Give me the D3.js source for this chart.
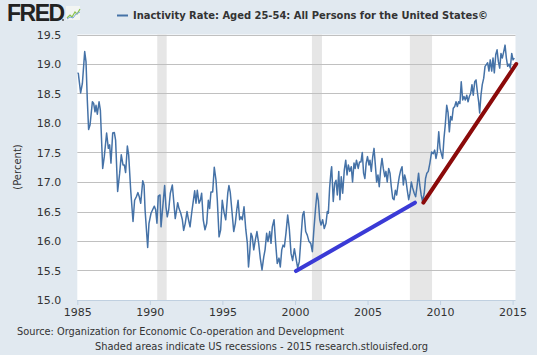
<!DOCTYPE html>
<html><head><meta charset="utf-8">
<script src="https://cdn.jsdelivr.net/npm/d3@7"></script>
<style>html,body{margin:0;padding:0;background:#e1e9f0;}svg{display:block;}</style>
</head><body>
<svg id="c" width="537" height="355"></svg>
<script>
const title = "Inactivity Rate: Aged 25-54: All Persons for the United States©";
const yTicks = [15.0, 15.5, 16.0, 16.5, 17.0, 17.5, 18.0, 18.5, 19.0, 19.5];
const xTicks = [1985, 1990, 1995, 2000, 2005, 2010, 2015];
const recessionStart = [1990.51, 2001.17, 2007.92];
const recessionEnd = [1991.16, 2001.86, 2009.45];
const trendBlue = [[2000.07, 15.49], [2008.27, 16.65]];
const trendRed = [[2008.85, 16.65], [2015.25, 19.0]];
const years = [1985.0,1985.07,1985.23,1985.35,1985.51,1985.60,1985.69,1985.78,1985.88,1986.04,1986.13,1986.22,1986.29,1986.38,1986.50,1986.59,1986.75,1986.86,1987.02,1987.14,1987.23,1987.32,1987.44,1987.55,1987.64,1987.78,1987.92,1988.03,1988.15,1988.24,1988.33,1988.45,1988.54,1988.68,1988.84,1988.95,1989.07,1989.18,1989.27,1989.37,1989.51,1989.60,1989.67,1989.85,1989.94,1990.08,1990.19,1990.31,1990.40,1990.49,1990.58,1990.70,1990.77,1990.93,1991.02,1991.11,1991.20,1991.30,1991.41,1991.55,1991.64,1991.75,1991.85,1991.92,1992.01,1992.13,1992.24,1992.33,1992.44,1992.56,1992.65,1992.77,1992.88,1993.00,1993.09,1993.18,1993.27,1993.39,1993.48,1993.57,1993.68,1993.80,1993.92,1994.03,1994.12,1994.21,1994.33,1994.44,1994.56,1994.65,1994.77,1994.88,1994.99,1995.11,1995.23,1995.37,1995.45,1995.54,1995.66,1995.78,1995.89,1995.99,1996.08,1996.19,1996.28,1996.37,1996.49,1996.61,1996.72,1996.80,1996.88,1996.97,1997.06,1997.16,1997.27,1997.38,1997.50,1997.61,1997.73,1997.85,1997.94,1998.05,1998.14,1998.26,1998.35,1998.44,1998.56,1998.67,1998.78,1998.90,1998.99,1999.09,1999.18,1999.27,1999.38,1999.50,1999.61,1999.73,1999.84,1999.96,2000.07,2000.19,2000.30,2000.42,2000.53,2000.62,2000.74,2000.85,2000.97,2001.09,2001.20,2001.31,2001.43,2001.52,2001.61,2001.71,2001.80,2001.91,2002.02,2002.14,2002.23,2002.30,2002.39,2002.48,2002.53,2002.64,2002.74,2002.83,2002.92,2003.02,2003.10,2003.19,2003.29,2003.40,2003.50,2003.59,2003.68,2003.78,2003.88,2003.97,2004.07,2004.15,2004.24,2004.36,2004.45,2004.55,2004.64,2004.73,2004.82,2004.91,2005.00,2005.10,2005.17,2005.26,2005.36,2005.45,2005.54,2005.63,2005.72,2005.81,2005.91,2006.00,2006.09,2006.19,2006.27,2006.36,2006.46,2006.55,2006.64,2006.74,2006.83,2006.92,2007.01,2007.10,2007.19,2007.29,2007.38,2007.47,2007.56,2007.65,2007.74,2007.84,2007.93,2008.02,2008.11,2008.22,2008.32,2008.41,2008.52,2008.60,2008.70,2008.80,2008.91,2009.00,2009.09,2009.19,2009.30,2009.42,2009.53,2009.63,2009.72,2009.81,2009.91,2010.00,2010.09,2010.18,2010.27,2010.36,2010.46,2010.55,2010.64,2010.73,2010.82,2010.91,2011.01,2011.10,2011.19,2011.28,2011.37,2011.46,2011.56,2011.65,2011.74,2011.84,2011.93,2012.02,2012.11,2012.20,2012.29,2012.39,2012.48,2012.57,2012.66,2012.73,2012.82,2012.91,2013.01,2013.10,2013.19,2013.28,2013.37,2013.46,2013.56,2013.65,2013.74,2013.84,2013.93,2014.02,2014.11,2014.20,2014.29,2014.39,2014.48,2014.57,2014.66,2014.75,2014.84,2014.94,2015.03,2015.12];
const values = [18.85,18.84,18.51,18.67,19.21,19.04,18.39,17.89,17.97,18.36,18.33,18.19,18.30,18.15,18.36,18.22,17.23,17.43,17.83,17.57,17.63,17.32,17.83,17.84,17.71,16.84,17.15,17.46,17.29,17.29,17.16,17.61,17.46,16.86,16.33,16.69,16.75,16.82,16.75,16.64,17.02,16.95,16.53,15.89,16.30,16.47,16.53,16.59,16.53,16.30,16.76,16.78,16.24,16.69,16.94,16.58,16.41,16.53,16.81,16.95,16.69,16.38,16.53,16.65,16.55,16.47,16.36,16.18,16.30,16.50,16.38,16.24,16.47,16.69,16.85,16.64,16.86,16.64,16.69,16.81,16.36,16.19,16.30,16.69,16.55,16.83,16.83,17.25,17.03,16.69,16.07,16.19,16.69,16.49,16.36,16.81,16.94,16.83,16.50,16.16,16.30,16.53,16.69,16.36,16.41,16.36,16.58,16.20,15.96,15.56,15.79,16.13,16.07,15.85,16.02,16.16,15.96,15.71,15.51,15.73,15.85,16.13,15.99,16.16,15.96,16.24,16.36,15.96,15.62,15.71,15.56,15.85,15.93,15.90,16.13,16.44,16.21,15.79,15.67,15.87,15.71,15.54,15.65,16.07,16.44,16.50,16.16,16.10,15.99,15.96,15.82,16.21,16.58,16.81,16.69,16.36,16.27,16.36,16.21,16.30,16.50,16.47,16.90,17.17,17.26,16.67,16.98,17.03,16.78,17.18,16.70,17.09,16.81,17.20,17.37,17.12,17.29,17.18,17.26,17.00,17.32,17.23,17.37,17.23,17.34,17.34,17.50,17.15,17.06,17.32,17.43,17.29,17.37,17.18,17.43,17.57,17.29,17.00,17.12,16.92,17.23,17.40,17.23,17.09,17.18,17.00,17.23,17.15,16.92,16.72,16.70,16.86,16.78,16.95,17.09,17.20,17.26,16.95,17.12,17.03,16.86,16.70,16.81,17.00,16.90,16.81,16.75,16.92,17.15,16.95,16.78,16.67,16.81,17.06,17.15,17.18,17.32,17.51,17.48,17.54,17.40,17.51,17.85,17.57,17.48,17.40,17.74,17.97,18.30,18.18,17.85,18.11,18.05,18.25,18.28,18.36,18.28,18.36,18.33,18.70,18.39,18.45,18.39,18.47,18.36,18.45,18.50,18.65,18.47,18.70,18.73,18.53,18.36,18.17,18.47,18.65,18.76,18.96,18.99,19.02,18.88,19.07,18.88,19.10,18.85,19.16,19.24,19.04,18.93,19.18,19.10,19.21,19.32,19.10,18.96,19.00,18.93,19.18,19.07,19.10];

const svg = d3.select("#c");
const W = 537, H = 355;
const plot = {left: 77.3, right: 515.5, top: 34.5, bottom: 300};
const x = d3.scaleLinear().domain([1985, 2015]).range([77.3, 512.6]);
const y = d3.scaleLinear().domain([15, 19.5]).range([300, 34.5]);
const FONT = "'DejaVu Sans', Verdana, sans-serif";

svg.append("rect").attr("width", W).attr("height", H).attr("fill", "#e1e9f0");
svg.append("rect").attr("x", plot.left).attr("y", plot.top)
  .attr("width", plot.right - plot.left).attr("height", plot.bottom - plot.top).attr("fill", "#ffffff");

svg.append("defs").append("clipPath").attr("id", "clip").append("rect")
  .attr("x", plot.left).attr("y", plot.top - 2)
  .attr("width", plot.right - plot.left + 3).attr("height", plot.bottom - plot.top + 4);

// recessions
svg.append("g").selectAll("rect").data(recessionStart).join("rect")
  .attr("x", (d) => x(d)).attr("y", plot.top)
  .attr("width", (d, i) => x(recessionEnd[i]) - x(d)).attr("height", plot.bottom - plot.top)
  .attr("fill", "#e6e6e6");

// gridlines
svg.append("g").selectAll("line").data(yTicks.filter(v => v > 15)).join("line")
  .attr("x1", plot.left).attr("x2", plot.right)
  .attr("y1", d => Math.round(y(d)) + 0.5).attr("y2", d => Math.round(y(d)) + 0.5)
  .attr("stroke", "#c0c0c0").attr("stroke-width", 1);

// x axis line
svg.append("line").attr("x1", plot.left).attr("x2", plot.right)
  .attr("y1", 300.5).attr("y2", 300.5).attr("stroke", "#c0d0e0").attr("stroke-width", 1);

// x axis
const xAxis = d3.axisBottom(x).tickValues(xTicks).tickFormat(d3.format("d")).tickSize(5).tickPadding(3);
const gx = svg.append("g").attr("transform", "translate(0,300)").call(xAxis);
gx.select(".domain").remove();
gx.selectAll(".tick line").attr("stroke", "#c0d0e0");
gx.selectAll(".tick text").attr("fill", "#333").attr("font-family", FONT).attr("font-size", 11);

// y axis
const yAxis = d3.axisLeft(y).tickValues(yTicks).tickFormat(d3.format(".1f")).tickSize(0).tickPadding(16);
const gy = svg.append("g").attr("transform", `translate(${plot.left},0)`).call(yAxis);
gy.select(".domain").remove();
gy.selectAll(".tick text").attr("fill", "#333").attr("font-family", FONT).attr("font-size", 11);

svg.append("text").attr("transform", "translate(21,167) rotate(-90)")
  .attr("text-anchor", "middle").attr("font-family", FONT).attr("font-size", 10)
  .attr("fill", "#333").text("(Percent)");

// series
const line = d3.line().x((d, i) => x(years[i])).y((d) => y(d));
const g = svg.append("g").attr("clip-path", "url(#clip)");
g.append("path").datum(values).attr("d", line).attr("fill", "none")
  .attr("stroke", "#4572a7").attr("stroke-width", 1.5).attr("stroke-linejoin", "round");

const tl = d3.line().x(d => x(d[0])).y(d => y(d[1]));
svg.append("path").datum(trendBlue).attr("d", tl).attr("stroke", "#3a3ad6")
  .attr("stroke-width", 4).attr("stroke-linecap", "round").attr("fill", "none");
svg.append("path").datum(trendRed).attr("d", tl).attr("stroke", "#8b0a0a")
  .attr("stroke-width", 4).attr("stroke-linecap", "round").attr("fill", "none");

// header
svg.append("text").attr("x", 7).attr("y", 21).attr("font-family", "'Liberation Sans', Arial, sans-serif")
  .attr("font-weight", "bold").attr("font-size", 23).attr("letter-spacing", -1.5)
  .attr("fill", "#222").text("FRED");
svg.append("circle").attr("cx", 63).attr("cy", 20).attr("r", 1).attr("fill", "#555");
const icon = svg.append("g").attr("transform", "translate(66,6)");
icon.append("rect").attr("width", 14).attr("height", 14).attr("fill", "#f2f5f2");
icon.append("path").attr("d", "M1,12 L4,9 L6,11 L9,6 L11,8 L14,3").attr("stroke", "#8bc34a").attr("stroke-width", 1.2).attr("fill", "none");
icon.append("path").attr("d", "M1,13 L4,11 L7,12 L10,8 L14,6").attr("stroke", "#7aa6d6").attr("stroke-width", 1).attr("fill", "none");

svg.append("line").attr("x1", 117).attr("x2", 128).attr("y1", 15.5).attr("y2", 15.5)
  .attr("stroke", "#4572a7").attr("stroke-width", 2);
svg.append("text").attr("x", 133).attr("y", 19).attr("font-family", FONT)
  .attr("font-weight", "bold").attr("font-size", 10).attr("fill", "#333")
  .attr("textLength", 355).attr("lengthAdjust", "spacingAndGlyphs").text(title);

svg.append("text").attr("x", 17).attr("y", 335).attr("font-family", FONT)
  .attr("font-size", 10).attr("fill", "#333")
  .attr("textLength", 327).attr("lengthAdjust", "spacingAndGlyphs")
  .text("Source: Organization for Economic Co-operation and Development");
svg.append("text").attr("x", 95).attr("y", 350).attr("font-family", FONT)
  .attr("font-size", 10).attr("fill", "#333")
  .attr("textLength", 333).attr("lengthAdjust", "spacingAndGlyphs")
  .text("Shaded areas indicate US recessions - 2015 research.stlouisfed.org");
</script>
</body></html>
